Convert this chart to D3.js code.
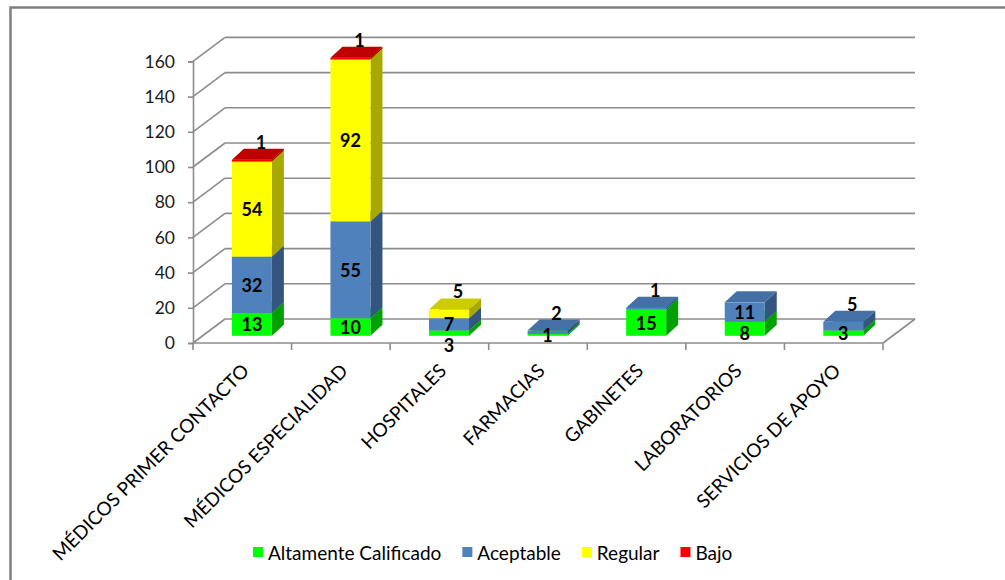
<!DOCTYPE html>
<html>
<head>
<meta charset="utf-8">
<script src="https://cdn.jsdelivr.net/npm/d3@7"></script>
<style>
  html, body { margin: 0; padding: 0; background: #ffffff; }
  svg { display: block; }
  text { font-family: Lato, "Liberation Sans", sans-serif; }
</style>
</head>
<body>
<svg id="chart" width="1005" height="580"></svg>
<script>
// Categories and stacked series values
const categories = [
  "MÉDICOS PRIMER CONTACTO",
  "MÉDICOS ESPECIALIDAD",
  "HOSPITALES",
  "FARMACIAS",
  "GABINETES",
  "LABORATORIOS",
  "SERVICIOS DE APOYO"
];
const altamenteCalificado = [13, 10, 3, 1, 15, 8, 3];
const aceptable           = [32, 55, 7, 2, 1, 11, 5];
const regular             = [54, 92, 5, 0, 0, 0, 0];
const bajo                = [1, 1, 0, 0, 0, 0, 0];
const seriesNames = ["Altamente Calificado", "Aceptable", "Regular", "Bajo"];
const yTicks = [0, 20, 40, 60, 80, 100, 120, 140, 160];

// Face colours per series: front, top, side
const palette = [
  { front: "#00ff00", top: "#00d200", side: "#00a000" },
  { front: "#4f81bd", top: "#4470a6", side: "#34557f" },
  { front: "#ffff00", top: "#cccc00", side: "#a8a800" },
  { front: "#ff0000", top: "#c00000", side: "#a00000" }
];

const svg = d3.select("#chart");

// Outer frame
svg.append("rect")
  .attr("x", 10.5).attr("y", 7.5)
  .attr("width", 1010).attr("height", 600)
  .attr("fill", "#ffffff")
  .attr("stroke", "#7f7f7f").attr("stroke-width", 2.5);

// Plot geometry (oblique 3D projection)
const x0 = 193, x1 = 883, yBase = 343;
const wall = { dx: 32, dy: -24 };          // depth of the whole plot box
const frontShift = 0.3;                    // bars start this far into the depth
const barDepth = { dx: 12, dy: -11 };
const barWidth = 40;

const y = d3.scaleLinear().domain([0, 160]).range([yBase, yBase - 160 * 1.76]);
const x = d3.scaleBand().domain(categories).range([x0, x1]).paddingInner(0).paddingOuter(0);

const gridColor = "#8c8c8c";
const grid = svg.append("g").attr("fill", "none").attr("stroke", gridColor).attr("stroke-width", 1.6);

// Back-wall gridlines and side-wall diagonals
yTicks.forEach(t => {
  const yf = y(t);
  grid.append("line")
    .attr("x1", x0 + wall.dx).attr("y1", yf + wall.dy)
    .attr("x2", x1 + wall.dx).attr("y2", yf + wall.dy);
  grid.append("line")
    .attr("x1", x0).attr("y1", yf)
    .attr("x2", x0 + wall.dx).attr("y2", yf + wall.dy);
});
// Floor right edge
grid.append("line")
  .attr("x1", x1).attr("y1", yBase)
  .attr("x2", x1 + wall.dx).attr("y2", yBase + wall.dy);
// Floor front edge with category boundary ticks
grid.append("line")
  .attr("x1", x0).attr("y1", yBase).attr("x2", x1).attr("y2", yBase);
d3.range(categories.length + 1).forEach(i => {
  const xx = x0 + i * x.bandwidth();
  grid.append("line")
    .attr("x1", xx).attr("y1", yBase).attr("x2", xx).attr("y2", yBase + 7);
});

// Vertical value axis
const yAxis = d3.axisLeft(y).tickValues(yTicks).tickSize(5).tickPadding(13);
const gy = svg.append("g").attr("transform", `translate(${x0},0)`).call(yAxis);
gy.select(".domain").attr("stroke", gridColor).attr("stroke-width", 1.6);
gy.selectAll(".tick line").attr("stroke", gridColor).attr("stroke-width", 1.6);
gy.selectAll(".tick text")
  .attr("fill", "#1a1a1a")
  .style("font-size", "17.5px")
  .style("font-family", "Lato, 'Liberation Sans', sans-serif");

// Stacked 3D bars
const stackData = categories.map((c, i) => ({
  cat: c,
  vals: [altamenteCalificado[i], aceptable[i], regular[i], bajo[i]]
}));

const bars = svg.append("g");
const labels = [];

stackData.forEach(d => {
  const bx = x(d.cat) + x.bandwidth() / 2 + wall.dx * frontShift - barWidth / 2;
  const shiftY = wall.dy * frontShift;
  let cum = 0;
  const segs = [];
  d.vals.forEach((v, s) => {
    if (v <= 0) return;
    const yb = y(cum) + shiftY;
    const yt = y(cum + v) + shiftY;
    cum += v;
    segs.push({ s, v, yb, yt });
    const c = palette[s];
    const g = bars.append("g");
    // side face
    g.append("path")
      .attr("d", `M${bx + barWidth},${yb} L${bx + barWidth + barDepth.dx},${yb + barDepth.dy} L${bx + barWidth + barDepth.dx},${yt + barDepth.dy} L${bx + barWidth},${yt} Z`)
      .attr("fill", c.side);
    // top face
    g.append("path")
      .attr("d", `M${bx},${yt} L${bx + barWidth},${yt} L${bx + barWidth + barDepth.dx},${yt + barDepth.dy} L${bx + barDepth.dx},${yt + barDepth.dy} Z`)
      .attr("fill", c.top);
    // front face
    g.append("rect")
      .attr("x", bx).attr("y", yt)
      .attr("width", barWidth).attr("height", Math.max(0, yb - yt))
      .attr("fill", c.front);
  });

  // Label placement: centred on each segment, thin top segments go above the bar,
  // and crowded labels are pushed downward
  const cx = bx + barWidth / 2;
  const pos = segs.map(sg => ({ v: sg.v, x: cx, y: (sg.yb + sg.yt) / 2 }));
  const n = segs.length;
  if (n > 0 && segs[n - 1].yb - segs[n - 1].yt < 14) {
    pos[n - 1].y = segs[n - 1].yt + barDepth.dy - 7;
    pos[n - 1].x = cx + 9;
  }
  for (let k = n - 2; k >= 0; k--) {
    if (pos[k].y - pos[k + 1].y < 21) pos[k].y = pos[k + 1].y + 21;
  }
  pos.forEach(p => labels.push(p));
});

svg.append("g").selectAll("text").data(labels).join("text")
  .attr("x", d => d.x).attr("y", d => d.y)
  .attr("text-anchor", "middle")
  .attr("dominant-baseline", "central")
  .style("font-size", "18px").style("font-weight", "bold")
  .attr("fill", "#000000")
  .text(d => d.v);

// Rotated category labels
svg.append("g").selectAll("text").data(categories).join("text")
  .attr("transform", d => `translate(${x(d) + x.bandwidth() / 2 + 8},${yBase + 29}) rotate(-45)`)
  .attr("text-anchor", "end")
  .style("font-size", "19px")
  .attr("fill", "#000000")
  .text(d => d);

// Legend
const legend = svg.append("g");
let lx = 253;
seriesNames.forEach((name, s) => {
  legend.append("rect")
    .attr("x", lx).attr("y", 547).attr("width", 10).attr("height", 10)
    .attr("fill", palette[s].front);
  const t = legend.append("text")
    .attr("x", lx + 15).attr("y", 552)
    .attr("dominant-baseline", "central")
    .style("font-size", "19px")
    .attr("fill", "#000000")
    .text(name);
  lx += 15 + t.node().getComputedTextLength() + 21;
});
</script>
</body>
</html>
